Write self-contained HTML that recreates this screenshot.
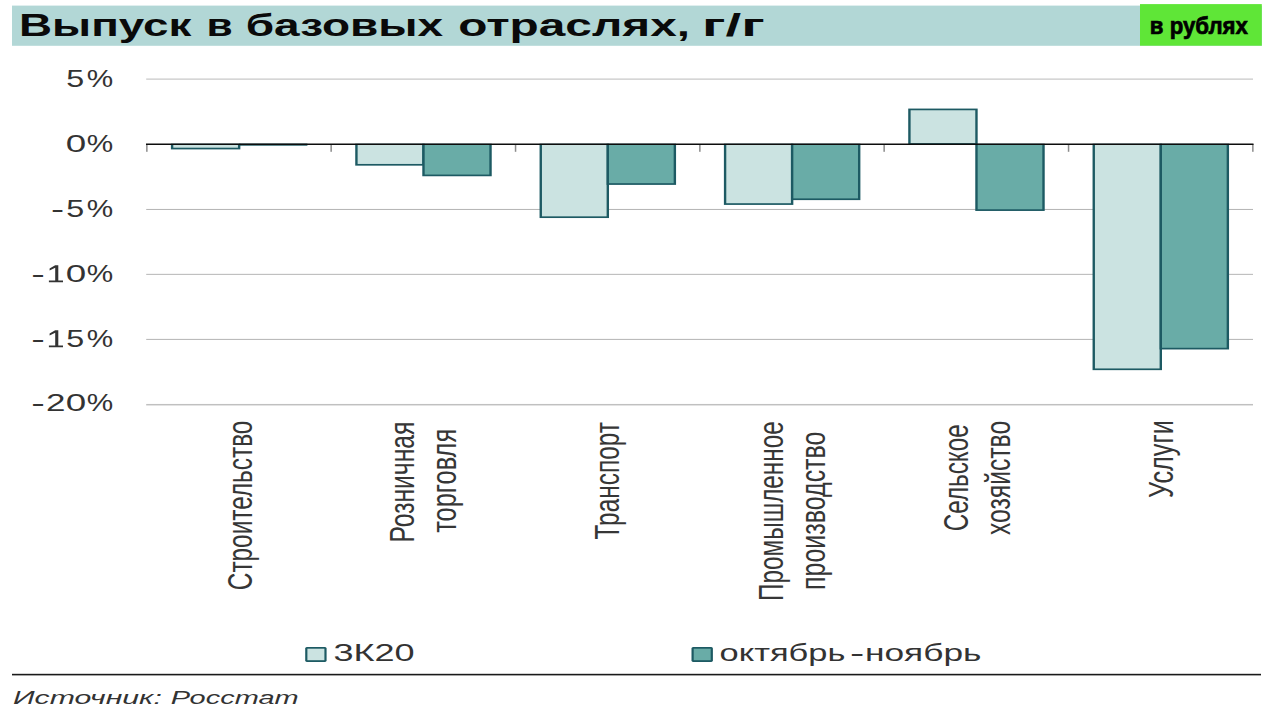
<!DOCTYPE html>
<html lang="ru"><head><meta charset="utf-8"><title>Выпуск в базовых отраслях</title>
<style>html,body{margin:0;padding:0;background:#fff;}svg{display:block;}text{font-family:"Liberation Sans",sans-serif;}</style></head><body>
<svg width="1275" height="707" viewBox="0 0 1275 707">
<rect width="1275" height="707" fill="#ffffff"/>
<!-- title band -->
<rect x="12" y="5.6" width="1250" height="40.2" fill="#b2d7d6"/>
<rect x="1140" y="4.1" width="121.8" height="41.6" fill="#5fe637"/>
<!-- gridlines -->
<rect x="146.2" y="78.55" width="1106.8" height="1.1" fill="#c0c0c0"/>
<rect x="146.2" y="208.95" width="1106.8" height="1.0" fill="#b4b4b4"/>
<rect x="146.2" y="273.85" width="1106.8" height="1.0" fill="#b6b6b6"/>
<rect x="146.2" y="338.9" width="1106.8" height="1.0" fill="#b4b4b4"/>
<rect x="146.2" y="403.95" width="1106.8" height="1.5" fill="#c0c0c0"/>
<!-- bars -->
<rect x="170.90" y="143.70" width="69.45" height="5.70" fill="#1d5a63"/>
<rect x="173.30" y="144.85" width="64.65" height="2.85" fill="#cbe3e1"/>
<rect x="239.15" y="143.60" width="68.25" height="2.1" fill="#1d5a63"/>
<rect x="355.23" y="143.70" width="69.45" height="21.95" fill="#1d5a63"/>
<rect x="357.63" y="144.85" width="64.65" height="19.10" fill="#cbe3e1"/>
<rect x="422.28" y="143.70" width="69.45" height="32.55" fill="#1d5a63"/>
<rect x="424.68" y="144.85" width="64.65" height="29.70" fill="#69aca7"/>
<rect x="539.56" y="143.70" width="69.45" height="74.34" fill="#1d5a63"/>
<rect x="541.96" y="144.85" width="64.65" height="71.49" fill="#cbe3e1"/>
<rect x="606.61" y="143.70" width="69.45" height="41.19" fill="#1d5a63"/>
<rect x="609.01" y="144.85" width="64.65" height="38.34" fill="#69aca7"/>
<rect x="723.89" y="143.70" width="69.45" height="61.21" fill="#1d5a63"/>
<rect x="726.29" y="144.85" width="64.65" height="58.36" fill="#cbe3e1"/>
<rect x="790.94" y="143.70" width="69.45" height="56.40" fill="#1d5a63"/>
<rect x="793.34" y="144.85" width="64.65" height="53.55" fill="#69aca7"/>
<rect x="908.22" y="108.57" width="69.45" height="35.73" fill="#1d5a63"/>
<rect x="910.62" y="110.27" width="64.65" height="32.88" fill="#cbe3e1"/>
<rect x="975.27" y="143.70" width="69.45" height="67.26" fill="#1d5a63"/>
<rect x="977.67" y="144.85" width="64.65" height="64.41" fill="#69aca7"/>
<rect x="1092.55" y="143.70" width="69.45" height="226.44" fill="#1d5a63"/>
<rect x="1094.95" y="144.85" width="64.65" height="223.59" fill="#cbe3e1"/>
<rect x="1159.60" y="143.70" width="69.45" height="205.77" fill="#1d5a63"/>
<rect x="1162.00" y="144.85" width="64.65" height="202.92" fill="#69aca7"/>
<!-- axis -->
<rect x="146.1" y="144" width="1.5" height="7.8" fill="#8c8c8c"/>
<rect x="330.4" y="144" width="1.5" height="7.8" fill="#8c8c8c"/>
<rect x="514.8" y="144" width="1.5" height="7.8" fill="#8c8c8c"/>
<rect x="699.1" y="144" width="1.5" height="7.8" fill="#8c8c8c"/>
<rect x="883.4" y="144" width="1.5" height="7.8" fill="#8c8c8c"/>
<rect x="1067.8" y="144" width="1.5" height="7.8" fill="#8c8c8c"/>
<rect x="1252.1" y="144" width="1.5" height="7.8" fill="#8c8c8c"/>
<rect x="146" y="143.5" width="1107.5" height="1.5" fill="#0d0d0d"/>
<!-- text -->
<text x="19.01" y="36.4" font-size="31.4" font-weight="bold" fill="#0a0a0a" textLength="172.47" lengthAdjust="spacingAndGlyphs">Выпуск</text>
<text x="206.62" y="36.4" font-size="31.4" font-weight="bold" fill="#0a0a0a" textLength="26.22" lengthAdjust="spacingAndGlyphs">в</text>
<text x="245.7" y="36.4" font-size="31.4" font-weight="bold" fill="#0a0a0a" textLength="197.46" lengthAdjust="spacingAndGlyphs">базовых</text>
<text x="458.23" y="36.4" font-size="31.4" font-weight="bold" fill="#0a0a0a" textLength="231.78" lengthAdjust="spacingAndGlyphs">отраслях,</text>
<text x="702.12" y="36.4" font-size="31.4" font-weight="bold" fill="#0a0a0a" textLength="62.65" lengthAdjust="spacingAndGlyphs">г/г</text>
<text x="1149.85" y="33.6" font-size="24" font-weight="bold" fill="#000000" stroke="#000000" stroke-width="0.7" textLength="98.07" lengthAdjust="spacingAndGlyphs">в рублях</text>
<text x="86.8" y="87.2" font-size="23.5" fill="#333333" textLength="26.43" lengthAdjust="spacingAndGlyphs">%</text>
<text x="86.8" y="152.4" font-size="23.5" fill="#333333" textLength="26.43" lengthAdjust="spacingAndGlyphs">%</text>
<text x="86.8" y="217.25" font-size="23.5" fill="#333333" textLength="26.43" lengthAdjust="spacingAndGlyphs">%</text>
<text x="86.8" y="282.2" font-size="23.5" fill="#333333" textLength="26.43" lengthAdjust="spacingAndGlyphs">%</text>
<text x="86.8" y="347.2" font-size="23.5" fill="#333333" textLength="26.43" lengthAdjust="spacingAndGlyphs">%</text>
<text x="86.8" y="411.3" font-size="23.5" fill="#333333" textLength="26.43" lengthAdjust="spacingAndGlyphs">%</text>
<text x="66.34" y="87.2" font-size="23.5" fill="#333333" textLength="17.96" lengthAdjust="spacingAndGlyphs">5</text>
<text x="65.68" y="152.4" font-size="23.5" fill="#333333" textLength="20.45" lengthAdjust="spacingAndGlyphs">0</text>
<text x="66.34" y="217.25" font-size="23.5" fill="#333333" textLength="17.96" lengthAdjust="spacingAndGlyphs">5</text>
<text x="51.02" y="217.25" font-size="23.5" fill="#333333" textLength="13.11" lengthAdjust="spacingAndGlyphs">-</text>
<text x="65.68" y="282.2" font-size="23.5" fill="#333333" textLength="20.45" lengthAdjust="spacingAndGlyphs">0</text>
<text x="31.26" y="282.2" font-size="23.5" fill="#333333" textLength="13.58" lengthAdjust="spacingAndGlyphs">-</text>
<text x="66.34" y="347.2" font-size="23.5" fill="#333333" textLength="17.96" lengthAdjust="spacingAndGlyphs">5</text>
<text x="31.26" y="347.2" font-size="23.5" fill="#333333" textLength="13.58" lengthAdjust="spacingAndGlyphs">-</text>
<text x="65.68" y="411.3" font-size="23.5" fill="#333333" textLength="20.45" lengthAdjust="spacingAndGlyphs">0</text>
<text x="46.03" y="411.3" font-size="23.5" fill="#333333" textLength="19.47" lengthAdjust="spacingAndGlyphs">2</text>
<text x="31.26" y="411.3" font-size="23.5" fill="#333333" textLength="13.58" lengthAdjust="spacingAndGlyphs">-</text>
<text x="333.41" y="660.8" font-size="23" fill="#333333" textLength="81.22" lengthAdjust="spacingAndGlyphs">3К20</text>
<text x="719.64" y="660.8" font-size="23" fill="#333333" textLength="125.72" lengthAdjust="spacingAndGlyphs">октябрь</text>
<text x="850.03" y="660.8" font-size="23" fill="#333333" textLength="14.3" lengthAdjust="spacingAndGlyphs">-</text>
<text x="865.0" y="660.8" font-size="23" fill="#333333" textLength="116.47" lengthAdjust="spacingAndGlyphs">ноябрь</text>
<text x="12.92" y="704.1" font-size="19" font-style="italic" fill="#333333" textLength="148.92" lengthAdjust="spacingAndGlyphs">Источник:</text>
<text x="170.67" y="704.1" font-size="19" font-style="italic" fill="#333333" textLength="127.96" lengthAdjust="spacingAndGlyphs">Росстат</text>
<text transform="translate(252.2,590.22) rotate(-90)" font-size="35.5" fill="#363636" textLength="169.59" lengthAdjust="spacingAndGlyphs">Строительство</text>
<text transform="translate(414.0,542.62) rotate(-90)" font-size="35.5" fill="#363636" textLength="120.92" lengthAdjust="spacingAndGlyphs">Розничная</text>
<text transform="translate(456.4,532.77) rotate(-90)" font-size="35.5" fill="#363636" textLength="103.93" lengthAdjust="spacingAndGlyphs">торговля</text>
<text transform="translate(619.1,539.47) rotate(-90)" font-size="35.5" fill="#363636" textLength="117.43" lengthAdjust="spacingAndGlyphs">Транспорт</text>
<text transform="translate(783.4,601.0) rotate(-90)" font-size="35.5" fill="#363636" textLength="179.73" lengthAdjust="spacingAndGlyphs">Промышленное</text>
<text transform="translate(825.4,589.96) rotate(-90)" font-size="35.5" fill="#363636" textLength="158.4" lengthAdjust="spacingAndGlyphs">производство</text>
<text transform="translate(967.8,531.22) rotate(-90)" font-size="35.5" fill="#363636" textLength="106.9" lengthAdjust="spacingAndGlyphs">Сельское</text>
<text transform="translate(1009.5,535.02) rotate(-90)" font-size="35.5" fill="#363636" textLength="114.17" lengthAdjust="spacingAndGlyphs">хозяйство</text>
<text transform="translate(1173.1,497.93) rotate(-90)" font-size="35.5" fill="#363636" textLength="77.75" lengthAdjust="spacingAndGlyphs">Услуги</text>
<!-- custom digit 1 -->
<path d="M55.2 265.20H58.3V280.50H63V282.20H48.9V280.50H55.2V267.80L49.6 270.60V268.50Z" fill="#333333"/>
<path d="M55.2 330.20H58.3V345.50H63V347.20H48.9V345.50H55.2V332.80L49.6 335.60V333.50Z" fill="#333333"/>
<!-- legend -->
<rect x="305.2" y="647" width="21.4" height="14.9" rx="1.6" fill="#1d5a63"/>
<rect x="307.4" y="648.7" width="17" height="11.5" fill="#cbe3e1"/>
<rect x="691.5" y="647" width="21.4" height="14.9" rx="1.6" fill="#1d5a63"/>
<rect x="693.7" y="648.7" width="17" height="11.5" fill="#69aca7"/>
<!-- rule -->
<rect x="12" y="673.8" width="1249" height="1.6" fill="#1a1a1a"/>
</svg></body></html>
